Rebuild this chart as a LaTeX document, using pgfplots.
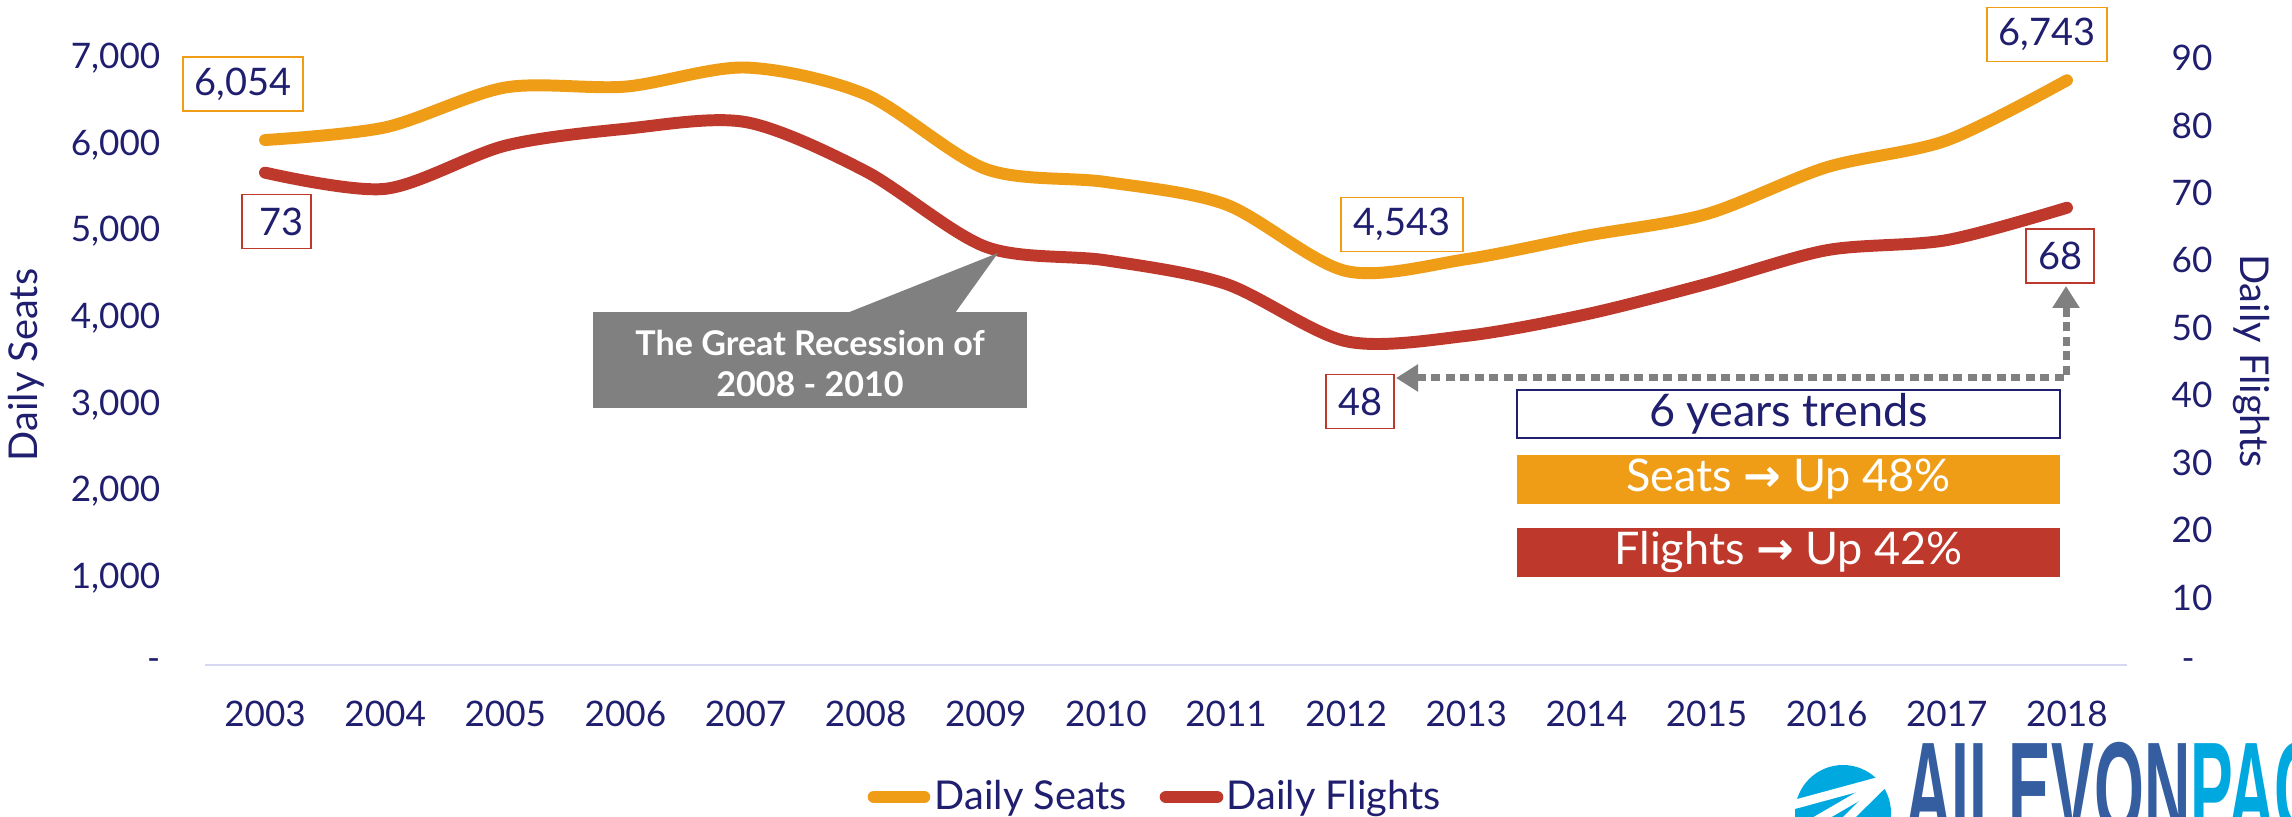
\documentclass[border=0pt]{standalone}
\usepackage{fontspec}
\setmainfont{Lato}
\newfontfamily\symfont{DejaVu Sans}
\newfontfamily\logofont{Liberation Sans}
\usepackage{pgfplots}
\pgfplotsset{compat=1.18}
\usetikzlibrary{arrows.meta}
\definecolor{navy}{RGB}{32,30,110}
\definecolor{seatc}{RGB}{239,156,22}
\definecolor{flightc}{RGB}{190,57,44}
\definecolor{boxgray}{RGB}{128,128,128}
\definecolor{axisc}{RGB}{215,215,242}
\definecolor{logodark}{RGB}{52,94,160}
\definecolor{logolight}{RGB}{0,168,224}

\pgfplotstableread{
x seats flights
0 6054 73
1 6200 70.6
2 6660 77
3 6670 79.5
4 6890 80.5
5 6580 73.2
6 5720 62
7 5570 60
8 5310 56.5
9 4543 48
10 4680 48.8
11 4950 52
12 5200 56.5
13 5740 61.5
14 6050 63
15 6743 67.8
}\datatable

\begin{document}
\begin{tikzpicture}
\path[use as bounding box, fill=white] (0,0) rectangle (229.2mm,81.7mm);

\pgfplotsset{myaxis/.style={
  at={(20.5mm,15.2mm)}, anchor=south west,
  scale only axis, width=192.2mm, height=60.7mm,
  xmin=-0.5, xmax=15.5,
  xtick={0,...,15},
  major tick length=0pt,
  tick label style={font=\fontsize{10}{12}\selectfont, text=navy, inner sep=0pt},
  clip=false,
}}

\begin{axis}[myaxis,
  axis x line*=bottom, axis y line*=left,
  x axis line style={draw=axisc, line width=0.6pt, -},
  y axis line style={draw=none},
  ymin=0, ymax=7000, ytick={0,1000,...,7000},
  yticklabels={{-\hspace{2.2mm}},{1,000},{2,000},{3,000},{4,000},{5,000},{6,000},{7,000}},
  yticklabel style={anchor=east, xshift=-4.4mm},
  xticklabels={2003,2004,2005,2006,2007,2008,2009,2010,2011,2012,2013,2014,2015,2016,2017,2018},
  xticklabel style={anchor=north, yshift=-3.5mm},
]
\addplot[seatc, line width=3.4pt, smooth, line cap=round] table[x=x, y=seats] {\datatable};
\end{axis}

\begin{axis}[myaxis,
  axis y line*=right, axis x line=none,
  y axis line style={draw=none},
  ymin=0, ymax=90, ytick={0,10,...,90},
  yticklabels={{\hspace{1mm}-},10,20,30,40,50,60,70,80,90},
  yticklabel style={anchor=west, xshift=4.4mm},
]
\addplot[flightc, line width=3.4pt, smooth, line cap=round] table[x=x, y=flights] {\datatable};
\end{axis}

% axis titles
\node[rotate=90, text=navy, font=\fontsize{11.3}{13}\selectfont] at (2.6mm,45.2mm) {Daily Seats};
\node[rotate=-90, text=navy, font=\fontsize{11.3}{13}\selectfont] at (225.1mm,45.6mm) {Daily Flights};

% data labels
\tikzset{dlab/.style={fill=white, text=navy, line width=0.5pt, inner sep=0pt,
  font=\fontsize{10.8}{12}\selectfont, minimum height=5.4mm}}
\node[dlab, draw=seatc, minimum width=12.0mm] at (24.3mm,73.3mm) {6,054};
\node[dlab, draw=flightc, minimum width=6.9mm] at (27.65mm,59.55mm) {\hspace{1mm}73};
\node[dlab, draw=seatc, minimum width=12.2mm] at (140.2mm,59.25mm) {4,543};
\node[dlab, draw=flightc, minimum width=6.8mm] at (136.0mm,41.55mm) {48};
\node[dlab, draw=seatc, minimum width=12.0mm] at (204.7mm,78.25mm) {6,743};
\node[dlab, draw=flightc, minimum width=6.8mm] at (206.0mm,56.1mm) {68};

% recession callout
\fill[boxgray] (59.3mm,40.9mm) rectangle (102.7mm,50.5mm);
\fill[boxgray] (84.7mm,50.4mm) -- (99.8mm,56.4mm) -- (95.5mm,50.4mm) -- cycle;
\node[text=white, font=\bfseries\fontsize{9.7}{11}\selectfont] at (81.0mm,47.4mm) {The Great Recession of};
\node[text=white, font=\bfseries\fontsize{9.7}{11}\selectfont] at (81.0mm,43.3mm) {2008 - 2010};

% dotted double arrow
\draw[boxgray, line width=0.7mm, dash pattern=on 0.9mm off 0.55mm,
  {Triangle[width=2.6mm,length=2.2mm]}-{Triangle[width=2.6mm,length=2.2mm]}]
  (139.6mm,43.9mm) -- (206.6mm,43.9mm) -- (206.6mm,53.1mm);

% trend boxes
\draw[navy, line width=0.8pt, fill=white] (151.7mm,37.9mm) rectangle (206.0mm,42.7mm);
\node[text=navy, font=\fontsize{12.8}{14}\selectfont] at (178.85mm,40.3mm) {6 years trends};
\fill[seatc] (151.7mm,31.3mm) rectangle (206.0mm,36.2mm);
\node[text=white, font=\fontsize{12.8}{14}\selectfont] at (178.85mm,33.75mm) {Seats {\symfont\bfseries →} Up 48\%};
\fill[flightc] (151.7mm,24.0mm) rectangle (206.0mm,28.9mm);
\node[text=white, font=\fontsize{12.8}{14}\selectfont] at (178.85mm,26.45mm) {Flights {\symfont\bfseries →} Up 42\%};

% legend
\draw[seatc, line width=3.6pt, line cap=round] (87.4mm,2.0mm) -- (92.4mm,2.0mm);
\node[anchor=base west, inner sep=0pt, text=navy, font=\fontsize{11.3}{13}\selectfont] at (93.4mm,0.7mm) {Daily Seats};
\draw[flightc, line width=3.6pt, line cap=round] (116.6mm,2.0mm) -- (121.7mm,2.0mm);
\node[anchor=base west, inner sep=0pt, text=navy, font=\fontsize{11.3}{13}\selectfont] at (122.6mm,0.7mm) {Daily Flights};

% logo (cut by the lower edge, as in the reference)
\begin{scope}
\clip (0,0) rectangle (229.2mm,81.7mm);
\fill[logolight] (184.3mm,0.4mm) circle (4.8mm);
\draw[white, line width=0.9mm] (188.8mm,3.8mm) -- (178.5mm,1.0mm);
\draw[white, line width=0.9mm] (188.8mm,3.8mm) -- (179.5mm,-1.6mm);
\draw[white, line width=0.9mm] (188.8mm,3.8mm) -- (182.5mm,-2.4mm);
\node[anchor=north west, inner sep=0pt, xscale=0.48, font=\logofont\bfseries\fontsize{38}{40}\selectfont] at (190.5mm,7.5mm) {\textcolor{logodark}{AILEVON}\textcolor{logolight}{PACIFIC}};
\end{scope}
\end{tikzpicture}
\end{document}
